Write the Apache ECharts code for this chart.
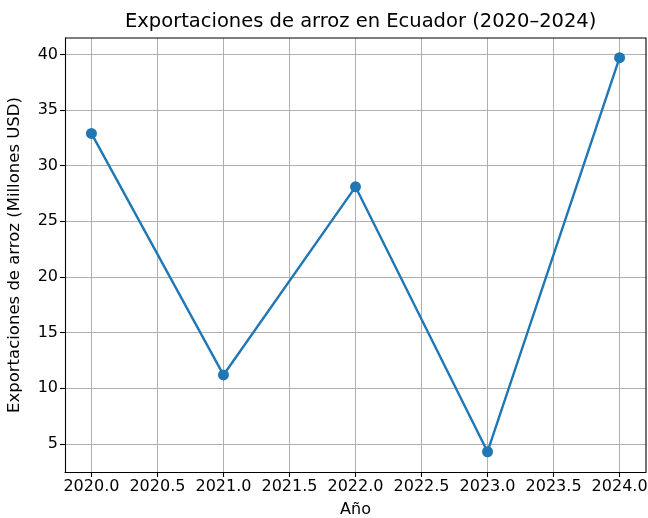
<!DOCTYPE html>
<html>
<head>
<meta charset="utf-8">
<script src="https://cdn.jsdelivr.net/npm/echarts@6/dist/echarts.min.js"></script>
<style>
html,body{margin:0;padding:0;background:#fff;}
#chart{width:648px;height:518px;}
</style>
</head>
<body>
<div id="chart"></div>
<script>
const years = [2020, 2021, 2022, 2023, 2024];
const exportsValues = [32.9, 11.2, 28.1, 4.3, 39.7];
const xTicks = [2020.0, 2020.5, 2021.0, 2021.5, 2022.0, 2022.5, 2023.0, 2023.5, 2024.0];
const yTicks = [5, 10, 15, 20, 25, 30, 35, 40];
const titleText = 'Exportaciones de arroz en Ecuador (2020–2024)';
const xName = 'Año';
const yName = 'Exportaciones de arroz (Millones USD)';

const font = 'DejaVu Sans';
const G = {left: 65, right: 2, top: 38, bottom: 46};
const W = 648, H = 518;
const chart = echarts.init(document.getElementById('chart'), null, {renderer: 'canvas'});
chart.setOption({
  animation: false,
  backgroundColor: '#ffffff',
  title: {
    text: titleText,
    left: 120,
    top: 7,
    textStyle: {fontFamily: font, fontSize: 19.5, fontWeight: 'normal', color: '#000'}
  },
  grid: Object.assign({containLabel: false, outerBoundsMode: 'none'}, G),
  xAxis: {
    type: 'value',
    min: 2019.8,
    max: 2024.2,
    name: xName,
    nameLocation: 'middle',
    nameGap: 30,
    nameTextStyle: {fontFamily: font, fontSize: 16, color: '#000'},
    axisLine: {show: true, onZero: false, lineStyle: {color: '#000', width: 1.1}},
    axisTick: {show: true, length: 5, lineStyle: {color: '#000', width: 1.1}, customValues: xTicks},
    axisLabel: {customValues: xTicks, fontFamily: font, fontSize: 16, color: '#000', margin: 7,
      hideOverlap: false, formatter: v => Number(v).toFixed(1)},
    splitLine: {show: true, lineStyle: {color: '#b0b0b0', width: 1}}
  },
  yAxis: {
    type: 'value',
    min: 2.48,
    max: 41.47,
    name: yName,
    nameLocation: 'middle',
    nameGap: 42,
    nameRotate: 90,
    nameTextStyle: {fontFamily: font, fontSize: 16.5, color: '#000'},
    axisLine: {show: true, onZero: false, lineStyle: {color: '#000', width: 1.1}},
    axisTick: {show: true, length: 5, lineStyle: {color: '#000', width: 1.1}, customValues: yTicks},
    axisLabel: {customValues: yTicks, fontFamily: font, fontSize: 16, color: '#000', margin: 7},
    splitLine: {show: true, lineStyle: {color: '#b0b0b0', width: 1}}
  },
  graphic: [{
    type: 'polyline',
    shape: {points: [[G.left, G.top], [W - G.right, G.top], [W - G.right, H - G.bottom]]},
    style: {fill: null, stroke: '#000', lineWidth: 1.1},
    z: 100, silent: true
  }],
  series: [{
    type: 'line',
    data: years.map((y, i) => [y, exportsValues[i]]),
    symbol: 'circle',
    symbolSize: 11,
    lineStyle: {color: '#1f77b4', width: 2.4},
    itemStyle: {color: '#1f77b4'},
    z: 10
  }]
});
</script>
</body>
</html>
